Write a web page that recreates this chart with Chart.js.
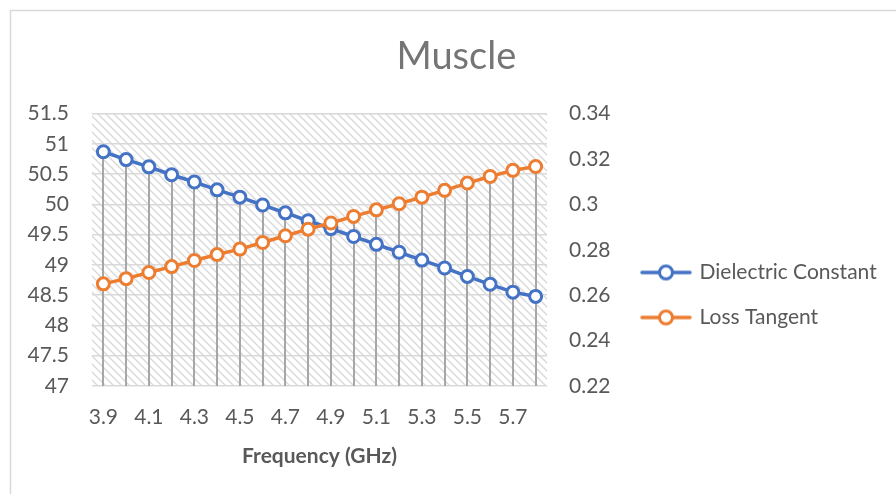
<!DOCTYPE html>
<html>
<head>
<meta charset="utf-8">
<script src="https://cdn.jsdelivr.net/npm/chart.js@4.4.0/dist/chart.umd.min.js"></script>
<style>
  html, body { margin: 0; padding: 0; background: #fff; }
  #wrap { position: relative; width: 896px; height: 494px; }
</style>
</head>
<body>
<div id="wrap"><canvas id="grafik" width="896" height="494"></canvas></div>
<script>
// Veriler
const frekanslar = ['3.9', '4', '4.1', '4.2', '4.3', '4.4', '4.5', '4.6', '4.7', '4.8',
                    '4.9', '5', '5.1', '5.2', '5.3', '5.4', '5.5', '5.6', '5.7', '5.8'];
const dielektrikSabiti = [50.87, 50.74, 50.62, 50.49, 50.37, 50.24, 50.12, 49.99, 49.86, 49.73,
                          49.6, 49.47, 49.34, 49.21, 49.08, 48.95, 48.81, 48.68, 48.55, 48.48];
const kayipTanjanti = [0.265, 0.2673, 0.270, 0.2726, 0.2753, 0.2779, 0.2803, 0.2832, 0.2862, 0.2891,
                       0.2918, 0.2947, 0.2976, 0.3003, 0.3032, 0.3062, 0.3094, 0.3123, 0.315, 0.3167];
const solEksen = { min: 47, max: 51.5, adim: 0.5 };
const sagEksen = { min: 0.22, max: 0.34, adim: 0.02 };

const MAVI = '#4472C4';
const TURUNCU = '#ED7D31';
const YAZI = '#595959';
const FONT = 'Lato, "Open Sans", sans-serif';
const ALAN_SAG = 547; // çizim alanının sağ kenarı

// Arka plan tarama deseni
function taramaDeseni() {
    const c = document.createElement('canvas');
    c.width = 8; c.height = 8;
    const g = c.getContext('2d');
    g.strokeStyle = '#d9d9d9';
    g.lineWidth = 1.4;
    g.beginPath();
    g.moveTo(-2, -2); g.lineTo(10, 10);
    g.moveTo(-2, 6); g.lineTo(2, 10);
    g.moveTo(6, -2); g.lineTo(10, 2);
    g.stroke();
    return c;
}

// Lejant simgesi: çizgi + daire
function lejantSimgesi(renk) {
    const c = document.createElement('canvas');
    c.width = 52; c.height = 18;
    const g = c.getContext('2d');
    g.strokeStyle = renk;
    g.lineWidth = 3.5;
    g.lineCap = 'round';
    g.beginPath(); g.moveTo(2, 9); g.lineTo(50, 9); g.stroke();
    g.fillStyle = '#fff';
    g.lineWidth = 3;
    g.beginPath(); g.arc(26, 9, 6.5, 0, Math.PI * 2); g.fill(); g.stroke();
    return c;
}

const ctx = document.getElementById('grafik').getContext('2d');
const desen = ctx.createPattern(taramaDeseni(), 'repeat');

const arkaPlanEklentisi = {
    id: 'arkaPlan',
    beforeDraw(chart) {
        const { ctx, chartArea: a } = chart;
        ctx.save();
        ctx.fillStyle = '#fff';
        ctx.fillRect(0, 0, chart.width, chart.height);
        ctx.fillStyle = desen;
        ctx.fillRect(a.left, a.top, a.right - a.left, a.bottom - a.top);
        // grafik çerçevesi
        ctx.strokeStyle = '#d9d9d9';
        ctx.lineWidth = 1.5;
        ctx.beginPath();
        ctx.moveTo(10.5, chart.height + 5);
        ctx.lineTo(10.5, 10.5);
        ctx.lineTo(chart.width + 5, 10.5);
        ctx.stroke();
        ctx.restore();
    }
};

// Düşey düşme çizgileri
const dusmeCizgisiEklentisi = {
    id: 'dusmeCizgileri',
    beforeDatasetsDraw(chart) {
        const { ctx, chartArea: a } = chart;
        const metalar = chart.getSortedVisibleDatasetMetas();
        if (!metalar.length) return;
        ctx.save();
        ctx.strokeStyle = '#a6a6a6';
        ctx.lineWidth = 2;
        metalar[0].data.forEach((nokta, i) => {
            let enUst = nokta.y;
            metalar.forEach(m => { if (m.data[i]) enUst = Math.min(enUst, m.data[i].y); });
            ctx.beginPath();
            ctx.moveTo(Math.round(nokta.x), enUst);
            ctx.lineTo(Math.round(nokta.x), a.bottom);
            ctx.stroke();
        });
        ctx.restore();
    }
};

const sayiYaz = v => String(+Number(v).toFixed(2));

const grafik = new Chart(ctx, {
    type: 'line',
    data: {
        labels: frekanslar,
        datasets: [
            {
                label: 'Dielectric Constant',
                data: dielektrikSabiti,
                yAxisID: 'y',
                borderColor: MAVI,
                backgroundColor: '#fff',
                borderWidth: 3.5,
                pointRadius: 6,
                pointBorderWidth: 3,
                pointBackgroundColor: '#fff',
                pointBorderColor: MAVI,
                order: 1
            },
            {
                label: 'Loss Tangent',
                data: kayipTanjanti,
                yAxisID: 'y1',
                borderColor: TURUNCU,
                backgroundColor: '#fff',
                borderWidth: 3.5,
                pointRadius: 6,
                pointBorderWidth: 3,
                pointBackgroundColor: '#fff',
                pointBorderColor: TURUNCU,
                order: 0
            }
        ]
    },
    options: {
        responsive: false,
        animation: false,
        layout: { padding: { left: 26, right: 0, top: 0, bottom: 21 } },
        plugins: {
            tooltip: { enabled: false },
            title: {
                display: true,
                text: 'Muscle',
                color: '#757575',
                font: { family: FONT, size: 38, weight: 'normal' },
                padding: { top: 34, bottom: 34 }
            },
            legend: {
                position: 'right',
                align: 'start',
                fullSize: false,
                maxWidth: 400,
                title: { display: true, text: '', padding: { top: 110, bottom: 0 }, font: { size: 12 } },
                labels: {
                    color: YAZI,
                    font: { family: FONT, size: 21 },
                    padding: 24,
                    usePointStyle: true,
                    pointStyleWidth: 46,
                    sort: (a, b) => a.datasetIndex - b.datasetIndex,
                    generateLabels(chart) {
                        const liste = Chart.defaults.plugins.legend.labels.generateLabels(chart);
                        return liste.map(o => {
                            const renk = chart.data.datasets[o.datasetIndex].borderColor;
                            return Object.assign(o, { pointStyle: lejantSimgesi(renk) });
                        });
                    }
                }
            }
        },
        scales: {
            x: {
                offset: true,
                grid: { display: false },
                border: { display: false },
                ticks: {
                    color: YAZI,
                    font: { family: FONT, size: 21 },
                    padding: 11,
                    autoSkip: false,
                    maxRotation: 0,
                    callback: function (v, i) { return i % 2 === 0 ? this.getLabelForValue(v) : ''; }
                },
                title: {
                    display: true,
                    text: 'Frequency (GHz)',
                    color: YAZI,
                    font: { family: FONT, size: 21, weight: 'bold' },
                    padding: { top: 10, bottom: 4 }
                },
                afterFit(scale) { scale.height = 87; }
            },
            y: {
                position: 'left',
                min: solEksen.min,
                max: solEksen.max,
                ticks: {
                    stepSize: solEksen.adim,
                    color: YAZI,
                    font: { family: FONT, size: 21 },
                    padding: 23,
                    callback: sayiYaz
                },
                grid: { color: '#d9d9d9', lineWidth: 1.5, drawTicks: false },
                border: { display: false },
                afterFit(scale) { scale.width = 66; }
            },
            y1: {
                position: 'right',
                min: sagEksen.min,
                max: sagEksen.max,
                ticks: {
                    stepSize: sagEksen.adim,
                    color: YAZI,
                    font: { family: FONT, size: 21 },
                    padding: 22,
                    callback: sayiYaz
                },
                grid: { display: false, drawTicks: false },
                border: { display: false },
                afterFit(scale) { scale.width = 72; }
            }
        }
    },
    plugins: [arkaPlanEklentisi, dusmeCizgisiEklentisi]
});

// çizim alanının sağ kenarını referansa oturt
const fark = grafik.chartArea.right - ALAN_SAG;
if (Math.abs(fark) > 0.5) {
    grafik.options.layout.padding.right = Math.max(0, grafik.options.layout.padding.right + fark);
    grafik.update();
}
</script>
</body>
</html>
